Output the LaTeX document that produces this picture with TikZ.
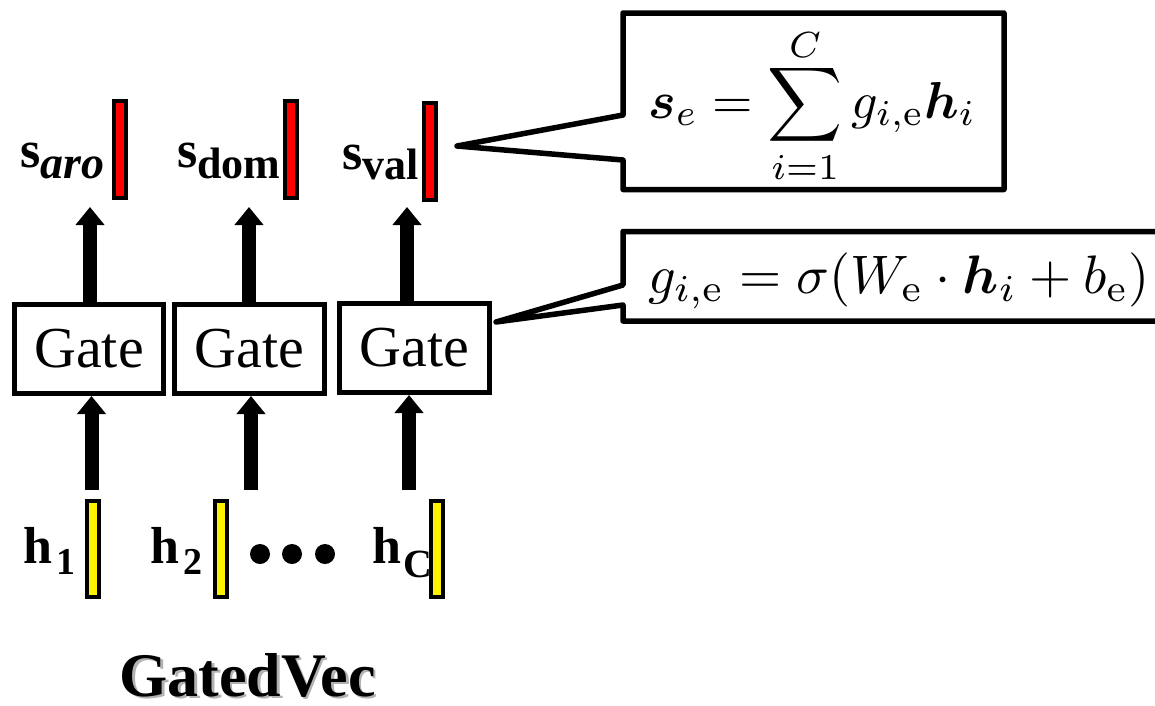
\documentclass[tikz,border=0pt]{standalone}
\usepackage[no-math]{fontspec}
\setmainfont{Liberation Serif}
\usepackage{amsmath,bm,graphicx}
\usetikzlibrary{arrows.meta,calc}
\newcommand\mysub[3]{{\fontsize{#1}{#1}\selectfont\raisebox{#2}{#3}}}
\begin{document}
\begin{tikzpicture}[x=1pt,y=-1pt,
  gatebox/.style={draw,line width=5pt,minimum width=149pt,minimum height=89pt,inner sep=0pt,font=\fontsize{58}{60}\selectfont},
  redbar/.style={draw,line width=4pt,fill=red,minimum width=12pt,minimum height=97pt,inner sep=0pt},
  yelbar/.style={draw,line width=4pt,fill=yellow,minimum width=12pt,minimum height=96pt,inner sep=0pt},
  bigarrow/.style={line width=14pt,-{Triangle[width=28pt,length=18pt]}},
  callout/.style={draw,line width=5.5pt,fill=white,line join=round},
  frame/.style={inner sep=0pt,outer sep=0pt},
  lbl/.style={inner sep=0pt,anchor=base west,font=\bfseries\fontsize{52}{56}\selectfont},
  formula/.style={inner sep=0pt,anchor=base west},
  dot/.style={circle,fill=black,inner sep=0pt,minimum size=20pt},
  titletext/.style={inner sep=0pt,anchor=base,text depth=0pt,font=\bfseries\fontsize{62}{66}\selectfont},
]
\path[use as bounding box,clip] (0,0) rectangle (1155,705);

% gates
\node[gatebox] (g1) at (89,349) {Gate};
\node[gatebox,minimum width=150pt] (g2) at (249.5,349) {Gate};
\node[gatebox,minimum width=150pt] (g3) at (414.5,348) {Gate};

% output bars
\node[redbar] (s1) at (120,149.5) {};
\node[redbar] (s2) at (291,149.5) {};
\node[redbar] (s3) at (430,151.5) {};

% input bars
\node[yelbar] (h1) at (93,549) {};
\node[yelbar] (h2) at (221,549) {};
\node[yelbar] (hC) at (437,548.5) {};

% labels
\node[lbl] (ls1) at (20,167) {s\mysub{46}{-11pt}{\itshape aro}};
\node[lbl] (ls2) at (177,167) {s\mysub{44}{-11pt}{dom}};
\node[lbl] (ls3) at (342,169) {s\mysub{44}{-10pt}{val}};
\node[lbl] (lh1) at (23,563) {h\kern4pt\mysub{38}{-11pt}{1}};
\node[lbl] (lh2) at (150,563) {h\kern4pt\mysub{38}{-11pt}{2}};
\node[lbl] (lhC) at (372,563) {h\kern2pt\mysub{40}{-14pt}{C}};

% dots
\node[dot] (d1) at (260,554) {};
\node[dot] (d2) at (292,554) {};
\node[dot] (d3) at (325,554) {};

% arrows gate -> output
\coordinate (t1) at (90,207);
\coordinate (t2) at (249,207);
\coordinate (t3) at (407,207);
\draw[bigarrow] (t1 |- g1.north) -- (t1);
\draw[bigarrow] (t2 |- g2.north) -- (t2);
\draw[bigarrow] (t3 |- g3.north) -- (t3);

% arrows input -> gate
\coordinate (b1) at (91.5,490);
\coordinate (b2) at (251,490);
\coordinate (b3) at (409,490);
\draw[bigarrow] (b1) -- (b1 |- g1.south);
\draw[bigarrow] (b2) -- (b2 |- g2.south);
\draw[bigarrow] (b3) -- (b3 |- g3.south);

% upper callout
\node[frame,minimum width=381pt,minimum height=176.5pt] (f1) at (813.5,101.25) {};
\coordinate (p1) at (457,146);
\draw[callout] (f1.north west) -- (f1.north east) -- (f1.south east) -- (f1.south west)
  -- ($(f1.south west)+(0,-29.5)$) -- (p1) -- ($(f1.north west)+(0,102)$) -- cycle;
\node[formula] (e1) at (648,118) {\scalebox{5.2}{$\bm{s}_e=\displaystyle\sum\limits_{\raisebox{1pt}[0pt][0pt]{$\scriptstyle i=1$}}^{\raisebox{-3.5pt}[0pt][0pt]{$\scriptstyle C$}} g_{i,\mathrm{e}}\bm{h}_i$}};

% lower callout
\node[frame,minimum width=557pt,minimum height=89.5pt] (f2) at (901.5,276.25) {};
\coordinate (p2) at (496,322);
\draw[callout] (f2.north west) -- (f2.north east) -- (f2.south east) -- (f2.south west)
  -- ($(f2.south west)+(0,-16)$) -- (p2) -- ($(f2.north west)+(0,53.5)$) -- cycle;
\node[formula] (e2) at (648,293) {\scalebox{5.42}{$g_{i,\mathrm{e}}=\sigma(W_{\mathrm{e}}\cdot\bm{h}_i+b_{\mathrm{e}})$}};

% title with soft shadow
\node[titletext,text=black!30] (tsh) at (250,698.5) {GatedVec};
\node[titletext] (title) at (247.5,696) {GatedVec};
\end{tikzpicture}
\end{document}
